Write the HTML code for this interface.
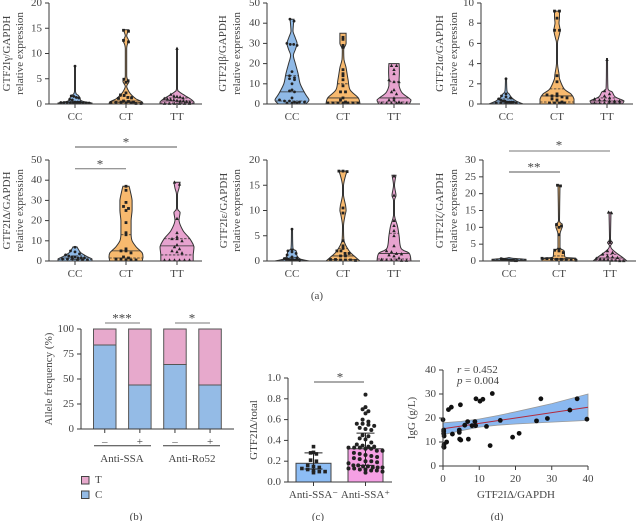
<!DOCTYPE html>
<html lang="en">
<head>
<meta charset="utf-8">
<title>GTF2I expression figure</title>
<style>
html,body{margin:0;padding:0;background:#fff;width:637px;height:521px;overflow:hidden}
svg{display:block;filter:blur(0.35px)}
text{font-family:"Liberation Serif",serif;fill:#444;font-size:11px}
</style>
</head>
<body>
<svg id="fig" xmlns="http://www.w3.org/2000/svg" width="637" height="521" viewBox="0 0 637 521"></svg>
<script>
const genotypes = ['CC','CT','TT'];

const gammaTicks = [0,5,10,15,20];
const gammaLevels = [[0,0.2,0.5,0.8,1.2,1.7,2.5,7.5],[0,0.4,1,1.7,2.4,3.5,4.5,5.5,11,12.5,13.5,14.7],[0,0.4,1,1.7,2.4,3,11]];
const gammaWidths = [[1,1,0.5,0.32,0.3,0.2,0.03,0.03],[1,0.95,0.6,0.35,0.18,0.04,0.18,0.04,0.04,0.16,0.04,0.16],[1,1,0.8,0.45,0.14,0.03,0.03]];
const gammaPoints = [[7.5,1.6,1.5,1.3,1.2,0.9,0.8,0.4,0.4,0.4,0.3,0.3,0.3,0.3,0.3,0.2,0.2,0.2,0.2,0.2],[14.6,14.4,12.6,12.3,4.9,4.6,4.3,2.2,1.8,1.7,1.3,1.2,1.1,0.6,0.5,0.4,0.3,0.3,0.3,0.2,0.2,0.1,0.1],[11,1.9,1.6,1.5,1.4,1.2,1.1,1,0.9,0.8,0.7,0.6,0.6,0.5,0.4,0.1,0.1,0.1,0.1,0.1,0.1]];
const gammaStats = [[0.2,0.3,0.5],[0.3,0.6,1.5],[0.2,0.6,1.2]];

const betaTicks = [0,10,20,30,40,50];
const betaLevels = [[0,2,5,10,15,20,24,27,30,33,36,39,42],[0,3,7,12,18,22,27,30,35],[0,2,5.5,9,12,16,20]];
const betaWidths = [[0.8,1,0.78,0.48,0.36,0.2,0.08,0.2,0.3,0.18,0.06,0.08,0.12],[1,0.9,0.42,0.3,0.18,0.06,0.04,0.18,0.18],[0.9,1,0.48,0.3,0.3,0.32,0.3]];
const betaPoints = [[42,41,30,29.5,29.5,29,16,14,13,12.5,12,10,7,6.5,6,3,2,1.5,1.5,1,1,1,0.5,0.5,0.5],[33,32,29,28,17,15,14,12,9,6,6,3,2,1,0.5,0.5,0.5,0.5,0.5,0.5,0.5],[19,19,17,15,12,11,11,7,6,5,3,2,2,1,0.5,0.5,0.5,0.5,0.5,0.5]];
const betaStats = [[1.5,6,14],[1,3,10],[1,3,11]];

const alphaTicks = [0,2,4,6,8,10];
const alphaLevels = [[0,0.3,0.6,1,1.3,2.5],[0,0.5,1,1.5,2.5,3,4,6,6.5,7.3,8,8.6,9.2],[0,0.3,0.7,1.2,1.5,4.5]];
const alphaWidths = [[1,0.6,0.35,0.18,0.06,0.03],[1,1,0.82,0.42,0.15,0.12,0.03,0.03,0.09,0.18,0.12,0.15,0.15],[0.9,1,0.48,0.3,0.06,0.03]];
const alphaPoints = [[2.5,1,0.8,0.7,0.6,0.5,0.4,0.3,0.3,0.2,0.2,0.2,0.2,0.1,0.1,0.1,0.1,0.1],[9.2,9.2,8.5,7.3,7.3,2.8,2.2,1,0.9,0.8,0.8,0.7,0.6,0.5,0.4,0.2,0.1,0.1,0.1,0.1],[4.4,1.3,1,0.8,0.6,0.5,0.4,0.4,0.3,0.3,0.3,0.1,0.1,0.1,0.1,0.1,0.1]];
const alphaStats = [[0.1,0.2,0.5],[0.2,0.8,1.5],[0.1,0.3,0.6]];

const deltaTicks = [0,10,20,30,40,50];
const deltaLevels = [[0,1,2,4,6,7],[0,2,4,7,10,13,20,25,30,35,37],[0,3,7,11,15,20,24,26,33,36,39]];
const deltaWidths = [[1,1,0.76,0.35,0.18,0.12],[0.95,1,0.95,0.6,0.36,0.3,0.3,0.36,0.36,0.24,0.18],[0.95,0.95,1,0.76,0.36,0.12,0.18,0.03,0.03,0.12,0.18]];
const deltaPoints = [[6.8,5,4.5,3.5,3,2.5,2,2,1.5,1.5,1.5,1,1,1,0.5,0.5,0.5],[37,35,29,27,26,25,19,14,13,6,5,5,4,2,1.5,1,1,0.5,0.5,0.5],[39,38,21,14,12,11,11,10,8,7,6,5,4.5,4,0.5,0.5,0.5,0.5,0.5,0.5]];
const deltaStats = [[0.8,1.5,2.5],[1.5,5,13],[3,7.5,11]];

const epsilonTicks = [0,5,10,15,20];
const epsilonLevels = [[0,0.4,1,2,2.5,6.3],[0,1,2,4,7,9,10,11,13,15,16.5,17.8],[0,1.5,2.5,5,7,9,12,13,15,17]];
const epsilonWidths = [[1,0.48,0.3,0.24,0.06,0.03],[1,0.65,0.36,0.06,0.03,0.12,0.18,0.15,0.03,0.03,0.12,0.24],[1,0.9,0.42,0.3,0.2,0.03,0.03,0.12,0.03,0.12]];
const epsilonPoints = [[6.3,2.2,2,1.8,1.5,1.2,0.8,0.6,0.5,0.4,0.4,0.3,0.3,0.3,0.2,0.2,0.2,0.1],[17.8,17.8,17.7,10.5,9.5,4,3,2.5,2,2,1.5,1.5,1,1,0.3,0.3,0.2,0.2,0.2,0.1],[16.8,13,8,7,6,5,3,2,1.8,1.5,1.4,1.2,1,0.6,0.3,0.2,0.2,0.2,0.1,0.1]];
const epsilonStats = [[0.1,0.3,0.7],[0.3,1,2.5],[0.4,1.5,5.5]];

const zetaTicks = [0,5,10,15,20,25,30];
const zetaLevels = [[0,0.5,0.8,1],[0,0.8,1.2,3,4,8,10,11,12,22.5],[0,1,2,3.5,4.5,5.5,6.5,14.5]];
const zetaWidths = [[1,1,0.2,0.03],[1,1,0.35,0.3,0.06,0.06,0.18,0.18,0.03,0.06],[1,0.76,0.48,0.12,0.03,0.15,0.03,0.06]];
const zetaPoints = [[0.7,0.6,0.5,0.4,0.4,0.3,0.3,0.3,0.3,0.2,0.2,0.2,0.2,0.1,0.1,0.1],[22.5,22.3,10.8,10.4,10,7.8,3.5,3.2,3,2.5,0.8,0.7,0.6,0.5,0.5,0.4,0.3,0.2],[14.5,14.3,6,5.5,3,2.5,2,1.5,1.2,1,0.8,0.6,0.5,0.4,0.2,0.2,0.1,0.1]];
const zetaStats = [[0.1,0.2,0.4],[0.4,0.7,1.5],[0.3,0.9,2]];

const freqTicks = [0,25,50,75,100];
const freqGroups = ['Anti-SSA','Anti-Ro52'];
const freqSigns = ['–','+','–','+'];
const freqC = [84,44,64.5,44];

const ratioTicks = [0,0.2,0.4,0.6,0.8,1];
const ratioLabels = ['Anti-SSA⁻','Anti-SSA⁺'];
const ratioMeans = [0.18,0.32];
const ratioLow = [0.125,0.16];
const ratioHigh = [0.28,0.47];
const ratioNeg = [0.34,0.285,0.28,0.27,0.21,0.2,0.16,0.15,0.14,0.13,0.12,0.11,0.1,0.1,0.09];
const ratioPos = [0.84,0.72,0.7,0.68,0.66,0.6,0.58,0.56,0.56,0.55,0.54,0.52,0.51,0.5,0.45,0.44,0.42,0.41,0.38,0.36,0.35,0.34,0.34,0.33,0.33,0.33,0.32,0.32,0.3,0.3,0.28,0.27,0.26,0.25,0.24,0.23,0.22,0.2,0.2,0.19,0.18,0.16,0.16,0.15,0.15,0.14,0.14,0.14,0.13,0.13,0.12,0.12,0.11,0.11,0.1,0.09];

const scatterXTicks = [0,10,20,30,40];
const scatterYTicks = [0,10,20,30,40];
const scatterX = [0,0.2,0.2,0.2,0.3,0.3,0.2,0.3,1,1.5,2.3,2.6,4.5,4.5,4.6,4.8,4.9,6,6.8,7,8,8.8,9,9.1,10.2,11,12,13,13.6,15.8,19.2,21,25.8,27,28.8,35,37,39.7];
const scatterY = [19.3,15,14.5,13.5,12.5,9,8,7.8,10,23.5,24.5,13.3,15,14,11.2,25.5,10.8,17,18.5,11.2,16.8,18.5,16.8,28,27,27.8,16.5,8.5,30.2,19,12,13.6,18.8,28,19.8,23.3,28,19.5];
const bandX = [0,5,10,15,20,30,40];
const bandUpper = [18,18.6,19.6,21,22.6,26,30];
const bandLower = [13,14.7,16.2,17,17.5,18.3,19];
const fitX = [0,40];
const fitY = [15.5,24.5];

const NS = 'http://www.w3.org/2000/svg';
const fig = document.getElementById('fig');
const DARK = '#3a3a3a';
const violinFill = ['#8fb9e6','#f7b96e','#e7a3cf'];

function mk(tag, parent, props) {
  const el = document.createElementNS(NS, tag);
  for (const k in props) el.setAttribute(k, props[k]);
  parent.appendChild(el);
  return el;
}
function line(parent, x1, y1, x2, y2, stroke, w, name) {
  const el = mk('line', parent, {x1, y1, x2, y2, stroke: stroke || DARK, 'stroke-width': w || 1});
  
  
  return el;
}
function label(parent, x, y, str, anchor, name, size, rot, style) {
  const el = mk('text', parent, {x, y, 'text-anchor': anchor || 'middle', 'dominant-baseline': 'central'});
  if (size) el.style.fontSize = size + 'px';
  if (rot) el.setAttribute('transform', 'rotate(-90 ' + x + ' ' + y + ')');
  if (style) el.setAttribute('font-style', style);
  el.textContent = str;
  
  
  return el;
}
function star(parent, x, y, str) {
  return label(parent, x, y + 2, str, 'middle', 'significance-star', 13);
}
function halfAt(levels, widths, v, maxHalf) {
  for (let i = 0; i < levels.length - 1; i++) {
    if (v >= levels[i] && v <= levels[i + 1]) {
      const t = (v - levels[i]) / (levels[i + 1] - levels[i]);
      return (widths[i] + (widths[i + 1] - widths[i]) * t) * maxHalf;
    }
  }
  return 0;
}
function clamp(v, a, b) {
  return Math.max(Math.min(a, b), Math.min(Math.max(a, b), v));
}
function smoothSide(pts) {
  let d = '';
  for (let i = 0; i < pts.length - 1; i++) {
    const p0 = pts[Math.max(i - 1, 0)], p1 = pts[i], p2 = pts[i + 1], p3 = pts[Math.min(i + 2, pts.length - 1)];
    const c1x = clamp(p1[0] + (p2[0] - p0[0]) / 6, p1[0], p2[0]);
    const c1y = clamp(p1[1] + (p2[1] - p0[1]) / 6, p1[1], p2[1]);
    const c2x = clamp(p2[0] - (p3[0] - p1[0]) / 6, p1[0], p2[0]);
    const c2y = clamp(p2[1] - (p3[1] - p1[1]) / 6, p1[1], p2[1]);
    d += 'C' + c1x.toFixed(1) + ' ' + c1y.toFixed(1) + ' ' + c2x.toFixed(1) + ' ' + c2y.toFixed(1) + ' ' + p2[0].toFixed(1) + ' ' + p2[1].toFixed(1);
  }
  return d;
}
function swarm(values, yScale, spacing, halfFn, binPx) {
  const bins = {};
  const out = [];
  values.forEach(v => {
    const b = Math.round(yScale(v) / binPx);
    (bins[b] = bins[b] || []).push(v);
  });
  Object.keys(bins).forEach(b => {
    const list = bins[b];
    const n = list.length;
    const hw = halfFn(list[0]);
    const s = n > 1 ? Math.min(spacing, (2 * hw) / (n - 1)) : 0;
    list.forEach((v, i) => out.push([(i - (n - 1) / 2) * s, v]));
  });
  return out;
}
function marker(parent, kind, x, y, r) {
  let el;
  if (kind === 0) el = mk('circle', parent, {cx: x, cy: y, r: r, fill: '#222'});
  else if (kind === 1) el = mk('rect', parent, {x: x - r, y: y - r, width: 2 * r, height: 2 * r, fill: '#222'});
  else el = mk('polygon', parent, {points: (x) + ',' + (y - r - 0.4) + ' ' + (x - r - 0.3) + ',' + (y + r) + ' ' + (x + r + 0.3) + ',' + (y + r), fill: '#222'});
  
  
}
function drawViolinPanel(name, axisLabel, ticks, levels, widths, points, stats, axisX, endX, top, bottom, centers, labelX1, labelX2) {
  const g = mk('g', fig, {});
  
  
  const vMax = ticks[ticks.length - 1];
  const y = v => bottom - (v / vMax) * (bottom - top);
  const maxHalf = 17;
  genotypes.forEach((geno, i) => {
    const cx = centers[i];
    const lv = levels[i], wd = widths[i];
    const left = lv.map((v, k) => [cx - wd[k] * maxHalf, y(v)]);
    const right = lv.map((v, k) => [cx + wd[k] * maxHalf, y(v)]).reverse();
    const d = 'M' + left[0][0].toFixed(1) + ' ' + left[0][1].toFixed(1) + smoothSide(left) + 'L' + right[0][0].toFixed(1) + ' ' + right[0][1].toFixed(1) + smoothSide(right) + 'Z';
    const v = mk('path', g, {d, fill: violinFill[i], stroke: '#333', 'stroke-width': 1});
    
    
    const st = stats[i];
    st.forEach((q, k) => {
      const hw = halfAt(lv, wd, q, maxHalf);
      const l = line(g, cx - hw, y(q), cx + hw, y(q), '#333', 0.8, 'quartile-line');
      if (k !== 1) l.setAttribute('stroke-dasharray', '2.5 1.5');
    });
    swarm(points[i], y, 5, q => Math.max(halfAt(lv, wd, q, maxHalf), 1.5), 4).forEach(p => {
      marker(g, i, cx + p[0], y(p[1]), 1.4);
    });
    line(g, cx, bottom, cx, bottom + 4, DARK, 1, 'x-tick');
    label(g, cx, bottom + 13, geno, 'middle', 'x-tick-label');
  });
  line(g, axisX, top, axisX, bottom, DARK, 1, 'y-axis');
  line(g, axisX, bottom, endX, bottom, DARK, 1, 'x-axis');
  ticks.forEach(t => {
    line(g, axisX - 4, y(t), axisX, y(t), DARK, 1, 'y-tick');
    label(g, axisX - 7, y(t), String(t), 'end', 'y-tick-label');
  });
  const mid = (top + bottom) / 2;
  label(g, labelX1, mid, axisLabel, 'middle', 'y-axis-title', 11, true);
  label(g, labelX2, mid, 'relative expression', 'middle', 'y-axis-subtitle', 11, true);
}

drawViolinPanel('gamma','GTF2Iγ/GAPDH',gammaTicks,gammaLevels,gammaWidths,gammaPoints,gammaStats,49,202,3,104,[75,126,177],7,20);
drawViolinPanel('beta','GTF2Iβ/GAPDH',betaTicks,betaLevels,betaWidths,betaPoints,betaStats,267,420,3,104,[292,343,394],223,237);
drawViolinPanel('alpha','GTF2Iα/GAPDH',alphaTicks,alphaLevels,alphaWidths,alphaPoints,alphaStats,481,633,3,104,[506,557,607],440,454);
drawViolinPanel('delta','GTF2IΔ/GAPDH',deltaTicks,deltaLevels,deltaWidths,deltaPoints,deltaStats,49,202,160,261,[75,126,177],7,20);
drawViolinPanel('epsilon','GTF2Iε/GAPDH',epsilonTicks,epsilonLevels,epsilonWidths,epsilonPoints,epsilonStats,267,420,160,261,[292,343,394],224,237);
drawViolinPanel('zeta','GTF2Iζ/GAPDH',zetaTicks,zetaLevels,zetaWidths,zetaPoints,zetaStats,483,636,160,261,[509,559,610],440,454);

line(fig,75,147,177,147,'#555',1,'significance-bar');
star(fig,126,140,'*');
line(fig,75,168.7,126,168.7,'#777',1,'significance-bar');
star(fig,100,162,'*');
line(fig,509,151,610,151,'#777',1,'significance-bar');
star(fig,559,143,'*');
line(fig,509,172,560,172,'#555',1,'significance-bar');
star(fig,534,165,'**');
label(fig,317,296,'(a)','middle','panel-a-caption');

/* panel b */
(function () {
  const g = mk('g', fig, {});
  
  
  const axisX = 81, top = 329, bottom = 429;
  const y = v => bottom - (v / 100) * (bottom - top);
  const barX = i => 93.5 + i * 35.1;
  const barW = 22.5;
  freqC.forEach((c, i) => {
    const x = barX(i);
    const t = mk('rect', g, {x, y: y(100), width: barW, height: y(c) - y(100), fill: '#e7a9cc', stroke: '#555', 'stroke-width': 1});
    
    
    const b = mk('rect', g, {x, y: y(c), width: barW, height: y(0) - y(c), fill: '#94bbe6', stroke: '#555', 'stroke-width': 1});
    
    
    line(g, x + barW / 2, bottom, x + barW / 2, bottom + 4, DARK, 1, 'x-tick');
    label(g, x + barW / 2, 442, freqSigns[i], 'middle', 'x-tick-label');
  });
  line(g, axisX, top, axisX, bottom, DARK, 1, 'y-axis');
  line(g, axisX, bottom, 234, bottom, DARK, 1, 'x-axis');
  freqTicks.forEach(t => {
    line(g, axisX - 4, y(t), axisX, y(t), DARK, 1, 'y-tick');
    label(g, axisX - 7, y(t), String(t), 'end', 'y-tick-label');
  });
  label(g, 49, 379, 'Allele frequency (%)', 'middle', 'y-axis-title', 11, true);
  line(g, 94, 445.7, 151, 445.7, DARK, 1, 'group-rule');
  line(g, 163, 445.7, 220, 445.7, DARK, 1, 'group-rule');
  label(g, 122, 459, freqGroups[0], 'middle', 'group-label');
  label(g, 192, 459, freqGroups[1], 'middle', 'group-label');
  line(g, 105, 323, 140, 323, '#777', 1, 'significance-bar');
  line(g, 175, 323, 210, 323, '#777', 1, 'significance-bar');
  star(g, 122, 316, '***');
  star(g, 192, 316, '*');
  const lt = mk('rect', g, {x: 81.5, y: 476.5, width: 7.5, height: 7.5, fill: '#e7a9cc', stroke: '#444', 'stroke-width': 1});
  
  
  const lc = mk('rect', g, {x: 81.5, y: 491, width: 7.5, height: 7.5, fill: '#94bbe6', stroke: '#444', 'stroke-width': 1});
  
  
  label(g, 95, 480, 'T', 'start', 'legend-entry');
  label(g, 95, 495, 'C', 'start', 'legend-entry');
  label(g, 136, 517, '(b)', 'middle', 'panel-b-caption');
})();

/* panel c */
(function () {
  const g = mk('g', fig, {});
  
  
  const axisX = 288, top = 378, bottom = 482;
  const y = v => bottom - v * (bottom - top);
  const centers = [313.5, 365.5];
  const fills = ['#8dbdf5', '#f5a0e4'];
  const sets = [ratioNeg, ratioPos];
  ratioMeans.forEach((m, i) => {
    const cx = centers[i];
    const b = mk('rect', g, {x: cx - 17.5, y: y(m), width: 35, height: bottom - y(m), fill: fills[i], stroke: '#444', 'stroke-width': 1});
    
    
    swarm(sets[i], y, 5.8, () => 17, 5).forEach(p => marker(g, i === 0 ? 1 : 0, cx + p[0], y(p[1]), i === 0 ? 1.8 : 2));
    line(g, cx, y(ratioLow[i]), cx, y(ratioHigh[i]), '#222', 1, 'error-bar');
    line(g, cx - 9, y(ratioHigh[i]), cx + 9, y(ratioHigh[i]), '#222', 1, 'error-cap');
    line(g, cx - 9, y(ratioLow[i]), cx + 9, y(ratioLow[i]), '#222', 1, 'error-cap');
    line(g, cx, bottom, cx, bottom + 4, DARK, 1, 'x-tick');
    label(g, cx, 495, ratioLabels[i], 'middle', 'x-tick-label');
  });
  line(g, axisX, top, axisX, bottom, DARK, 1, 'y-axis');
  line(g, axisX - 4, bottom, 392, bottom, DARK, 1, 'x-axis');
  ratioTicks.forEach(t => {
    line(g, axisX - 4, y(t), axisX, y(t), DARK, 1, 'y-tick');
    label(g, axisX - 7, y(t), t.toFixed(1), 'end', 'y-tick-label');
  });
  label(g, 254, 430, 'GTF2IΔ/total', 'middle', 'y-axis-title', 11, true);
  line(g, 314, 382, 364, 382, '#555', 1, 'significance-bar');
  star(g, 340, 375, '*');
  label(g, 318, 517, '(c)', 'middle', 'panel-c-caption');
})();

/* panel d */
(function () {
  const g = mk('g', fig, {});
  
  
  const x = v => 443 + (v / 40) * 145;
  const y = v => 466 - (v / 40) * 96;
  const up = bandX.map((v, i) => x(v).toFixed(1) + ',' + y(bandUpper[i]).toFixed(1));
  const lo = bandX.map((v, i) => x(v).toFixed(1) + ',' + y(bandLower[i]).toFixed(1)).reverse();
  const band = mk('polygon', g, {points: up.concat(lo).join(' '), fill: '#8ab8f0', stroke: '#999', 'stroke-width': 0.8});
  
  
  line(g, x(fitX[0]), y(fitY[0]), x(fitX[1]), y(fitY[1]), '#b22a3c', 1, 'regression-line');
  scatterX.forEach((v, i) => {
    const c = mk('circle', g, {cx: x(v), cy: y(scatterY[i]), r: 2.4, fill: '#111'});
    
    
  });
  line(g, 443, y(40), 443, y(0), DARK, 1, 'y-axis');
  line(g, x(0), 466, x(40), 466, DARK, 1, 'x-axis');
  scatterYTicks.forEach(t => {
    line(g, 439, y(t), 443, y(t), DARK, 1, 'y-tick');
    label(g, 436, y(t), String(t), 'end', 'y-tick-label');
  });
  scatterXTicks.forEach(t => {
    line(g, x(t), 466, x(t), 470, DARK, 1, 'x-tick');
    label(g, x(t), 479, String(t), 'middle', 'x-tick-label');
  });
  label(g, 516, 495, 'GTF2IΔ/GAPDH', 'middle', 'x-axis-title');
  label(g, 412, 418, 'IgG (g/L)', 'middle', 'y-axis-title', 11, true);
  const r = label(g, 457, 370, 'r', 'start', 'correlation-r', 11, false, 'italic');
  const rv = mk('tspan', r, {'font-style': 'normal'});
  rv.textContent = ' = 0.452';
  const p = label(g, 457, 381, 'p', 'start', 'correlation-p', 11, false, 'italic');
  const pv = mk('tspan', p, {'font-style': 'normal'});
  pv.textContent = ' = 0.004';
  label(g, 497, 517, '(d)', 'middle', 'panel-d-caption');
})();
</script>
</body>
</html>
